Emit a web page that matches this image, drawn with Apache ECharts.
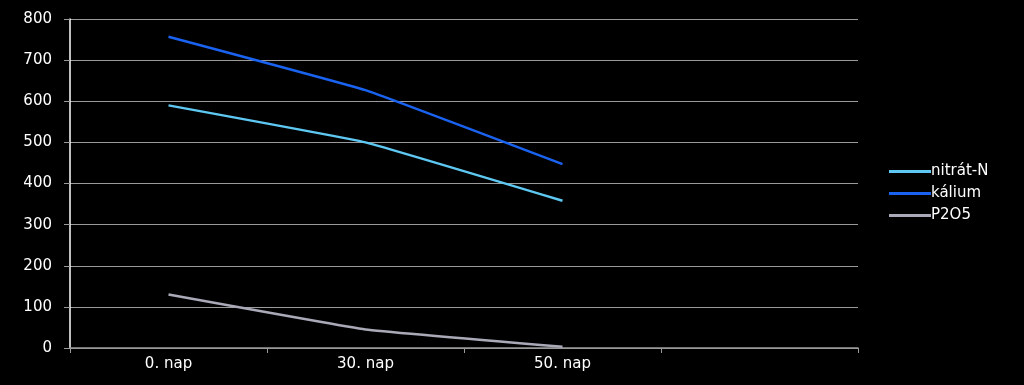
<!DOCTYPE html>
<html><head><meta charset="utf-8">
<script src="https://cdn.jsdelivr.net/npm/echarts@6/dist/echarts.min.js"></script>
<style>html,body{margin:0;padding:0;background:#000;}#c{width:1024px;height:385px;}</style>
</head><body><div id="c"></div>
<script>
var categories = ['0. nap', '30. nap', '50. nap', ''];
var nitratN = [590, 500, 358];
var kalium = [757, 627, 447];
var p2o5 = [130, 45, 3];
var yTicks = [0, 100, 200, 300, 400, 500, 600, 700, 800];

var font = 'DejaVu Sans';
var chart = echarts.init(document.getElementById('c'));
function mk(name, data, color) {
  return {
    name: name, type: 'line', data: data, smooth: 0.08,
    symbol: 'none', showSymbol: false,
    lineStyle: { color: color, width: 2.5 }, itemStyle: { color: color }
  };
}
var lineIcon = 'path://M0,5.5 L40,5.5 L40,8.5 L0,8.5 Z';
chart.setOption({
  backgroundColor: '#000',
  animation: false,
  grid: { left: 70, right: 166, top: 19, bottom: 37, containLabel: false },
  legend: {
    orient: 'vertical', left: 884, top: 159, itemWidth: 42, itemHeight: 14, itemGap: 7,
    icon: lineIcon,
    textStyle: { color: '#fff', fontFamily: font, fontSize: 15, padding: [0, 0, 0, -5] },
    data: ['nitrát-N', 'kálium', 'P2O5']
  },
  xAxis: {
    type: 'category', data: categories, boundaryGap: true,
    axisLine: { lineStyle: { color: '#9a9a9a', width: 1.5 } },
    axisTick: { show: true, length: 5, lineStyle: { color: '#9a9a9a' } },
    axisLabel: { color: '#fff', fontFamily: font, fontSize: 15, margin: 9 },
    splitLine: { show: false }
  },
  yAxis: {
    type: 'value', min: yTicks[0], max: yTicks[yTicks.length - 1], interval: 100,
    axisLine: { show: true, lineStyle: { color: '#fff', width: 1.5 } },
    axisTick: { show: true, length: 6, lineStyle: { color: '#9a9a9a' } },
    axisLabel: { color: '#fff', fontFamily: font, fontSize: 15, margin: 18 },
    splitLine: { lineStyle: { color: '#9a9a9a', width: 1.2 } }
  },
  series: [
    mk('nitrát-N', nitratN, '#5ec8f2'),
    mk('kálium', kalium, '#1a62f0'),
    mk('P2O5', p2o5, '#a9a9b8')
  ]
});
</script></body></html>
